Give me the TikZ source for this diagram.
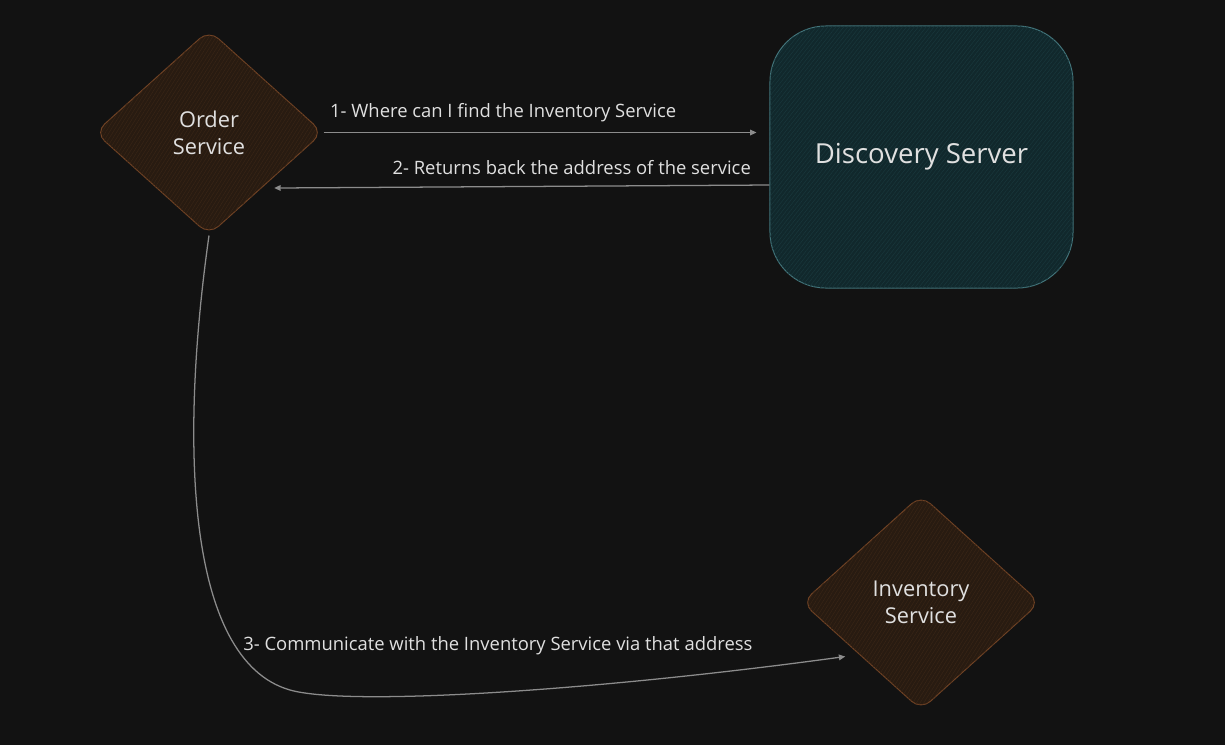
\documentclass[tikz,border=0pt]{standalone}
\usepackage{fontspec}
\setmainfont{Open Sans}
\usetikzlibrary{shapes.geometric, arrows.meta, patterns.meta}
\definecolor{canvasbg}{RGB}{18, 18, 18}
\definecolor{inktext}{RGB}{224, 224, 224}
\definecolor{inkline}{RGB}{140, 140, 140}
\definecolor{svcfill}{RGB}{40, 27, 17}
\definecolor{svcdraw}{RGB}{112, 66, 36}
\definecolor{svcline}{RGB}{56, 37, 22}
\definecolor{dscfill}{RGB}{17, 40, 44}
\definecolor{dscdraw}{RGB}{66, 116, 122}
\definecolor{dscline}{RGB}{25, 55, 60}
\tikzset{
  dbox/.style={
    diamond, rounded corners=9pt,
    draw=svcdraw, fill=svcfill, line width=0.7pt,
    text=inktext, align=center, inner sep=0pt,
    font=\fontsize{15.5}{19}\selectfont,
    postaction={pattern={Lines[angle=58, distance=2.2pt, line width=0.35pt]}, pattern color=svcline}
  },
  sbox/.style={
    rectangle, rounded corners=1.4cm,
    draw=dscdraw, fill=dscfill, line width=0.7pt,
    text=inktext, align=center, inner sep=0pt,
    minimum width=7.575cm, minimum height=6.55cm,
    font=\fontsize{19.6}{23}\selectfont,
    postaction={pattern={Lines[angle=52, distance=2.2pt, line width=0.35pt]}, pattern color=dscline}
  },
  lbl/.style={text=inktext, inner sep=0pt, font=\fontsize{13.1}{15}\selectfont},
  arr/.style={-{Triangle[length=4.5pt, width=4pt]}, line width=0.9pt, color=inkline},
}

\begin{document}
\begin{tikzpicture}[x=0.025cm, y=-0.025cm]
    \fill[canvasbg] (0,0) rectangle (1225,745);

    \node[dbox, minimum width=5.7cm, minimum height=5.125cm]  (os)  at (209,132.5) {Order\\Service};
    \node[sbox]                                               (ds)  at (921.5,157) {Discovery Server};
    \node[dbox, minimum width=5.95cm, minimum height=5.375cm] (inv) at (921,602.5) {Inventory\\Service};

    \draw[arr, shorten >=0.325cm] (os.east) -- (os.east -| ds.west)
      node[lbl, pos=0, anchor=south west, xshift=0.15cm, yshift=0.26cm]{1- Where can I find the Inventory Service};
    \draw[arr] ([yshift=-0.7cm]ds.west) -- ([xshift=0.2cm, yshift=-0.1cm]os.south east)
      node[lbl, pos=0, anchor=south east, xshift=-0.45cm, yshift=0.25cm]{2- Returns back the address of the service};

    \draw[arr] (os.south) .. controls (180,440) and (185,660) .. (290,690)
      .. controls (350,707) and (600,690) .. ([xshift=-0.4cm]inv.south west);
    \node[lbl, anchor=base west] (l3) at (243,650) {3- Communicate with the Inventory Service via that address};
\end{tikzpicture}
\end{document}
